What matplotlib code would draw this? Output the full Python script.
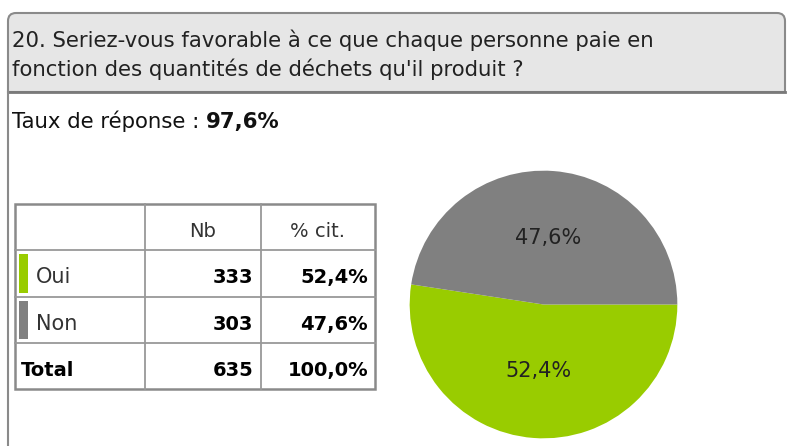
import matplotlib.pyplot as plt
from matplotlib.path import Path
from matplotlib.patches import PathPatch, Rectangle

# --- data ---
question = ["20. Seriez-vous favorable à ce que chaque personne paie en",
            "fonction des quantités de déchets qu'il produit ?"]
response_rate = 97.6
categories = ["Oui", "Non"]
counts = [333, 303]
pcts = [52.4, 47.6]
total_count = 635
total_pct = 100.0
col_headers = ["Nb", "% cit."]
colors = ["#99cc00", "#808080"]


def fmt_pct(v):
    return f"{v:.1f}".replace(".", ",") + "%"


W, H = 787, 446
fig = plt.figure(figsize=(W / 100, H / 100), dpi=100)
ax = fig.add_axes([0, 0, 1, 1])
ax.set_xlim(0, W)
ax.set_ylim(H, 0)
ax.axis("off")

FONT = "DejaVu Sans"
border = "#8a8a8a"

# header band with rounded top corners
x0, x1, y0, y1, r = 8, 785, 13, 92, 8
verts = [(x0, y1), (x0, y0 + r), (x0, y0), (x0 + r, y0), (x1 - r, y0),
         (x1, y0), (x1, y0 + r), (x1, y1), (x0, y1)]
codes = [Path.MOVETO, Path.LINETO, Path.CURVE3, Path.CURVE3, Path.LINETO,
         Path.CURVE3, Path.CURVE3, Path.LINETO, Path.CLOSEPOLY]
ax.add_patch(PathPatch(Path(verts, codes), facecolor="#e6e6e6",
                       edgecolor=border, lw=1.5))
ax.plot([x0, x1], [y1, y1], color="#7a7a7a", lw=2)
ax.plot([x0, x0], [y1, H], color=border, lw=1.5)

# title
ax.text(12, 47, question[0], fontsize=15.3, family=FONT, color="#222222", va="baseline")
ax.text(12, 76, question[1], fontsize=15.3, family=FONT, color="#222222", va="baseline")

t1 = ax.text(12, 128, "Taux de réponse : ", fontsize=15.3, family=FONT,
             color="#111111", va="baseline")
ax.annotate(fmt_pct(response_rate), xy=(1, 0), xycoords=t1, fontsize=15.3,
            family=FONT, fontweight="bold", color="#111111", va="bottom", ha="left")

# table
col_edges = [15, 145, 261, 375]
row_edges = [204, 250, 297, 343, 389]
for y in row_edges[1:-1]:
    ax.plot([col_edges[0], col_edges[-1]], [y, y], color="#999999", lw=1.3)
for x in col_edges[1:-1]:
    ax.plot([x, x], [row_edges[0], row_edges[-1]], color="#999999", lw=1.3)
ax.add_patch(Rectangle((col_edges[0], row_edges[0]), col_edges[-1] - col_edges[0],
                       row_edges[-1] - row_edges[0], fill=False,
                       edgecolor=border, lw=1.8))

fs = 14
base = 33
for j, h in enumerate(col_headers):
    ax.text((col_edges[j + 1] + col_edges[j + 2]) / 2, row_edges[0] + base, h,
            fontsize=fs, family=FONT, color="#333333", ha="center", va="baseline")

for i, cat in enumerate(categories):
    top = row_edges[i + 1]
    ax.add_patch(Rectangle((19, top + 4), 9, row_edges[i + 2] - top - 8,
                           color=colors[i], lw=0))
    ax.text(36, top + base, cat, fontsize=fs + 1, family=FONT, color="#333333", va="baseline")
    ax.text(col_edges[2] - 8, top + base, str(counts[i]), fontsize=fs, family=FONT,
            fontweight="bold", ha="right", va="baseline")
    ax.text(col_edges[3] - 7, top + base, fmt_pct(pcts[i]), fontsize=fs, family=FONT,
            fontweight="bold", ha="right", va="baseline")

top = row_edges[3]
ax.text(21, top + base, "Total", fontsize=fs, family=FONT, fontweight="bold", va="baseline")
ax.text(col_edges[2] - 8, top + base, str(total_count), fontsize=fs, family=FONT,
        fontweight="bold", ha="right", va="baseline")
ax.text(col_edges[3] - 7, top + base, fmt_pct(total_pct), fontsize=fs, family=FONT,
        fontweight="bold", ha="right", va="baseline")

# pie
pax = fig.add_axes([407 / W, (H - 439) / H, 273 / W, 269 / H])
wedges, texts, autotexts = pax.pie(
    pcts, colors=colors, startangle=0, counterclock=False,
    autopct=lambda p: fmt_pct(p), pctdistance=0.5,
    wedgeprops=dict(linewidth=0),
    textprops=dict(fontsize=15, family="DejaVu Sans", color="#222222"))
pax.set_xlim(-1.005, 1.005)
pax.set_ylim(-1.005, 1.005)
pax.set_aspect("equal")

fig.savefig("out.png", dpi=100)
